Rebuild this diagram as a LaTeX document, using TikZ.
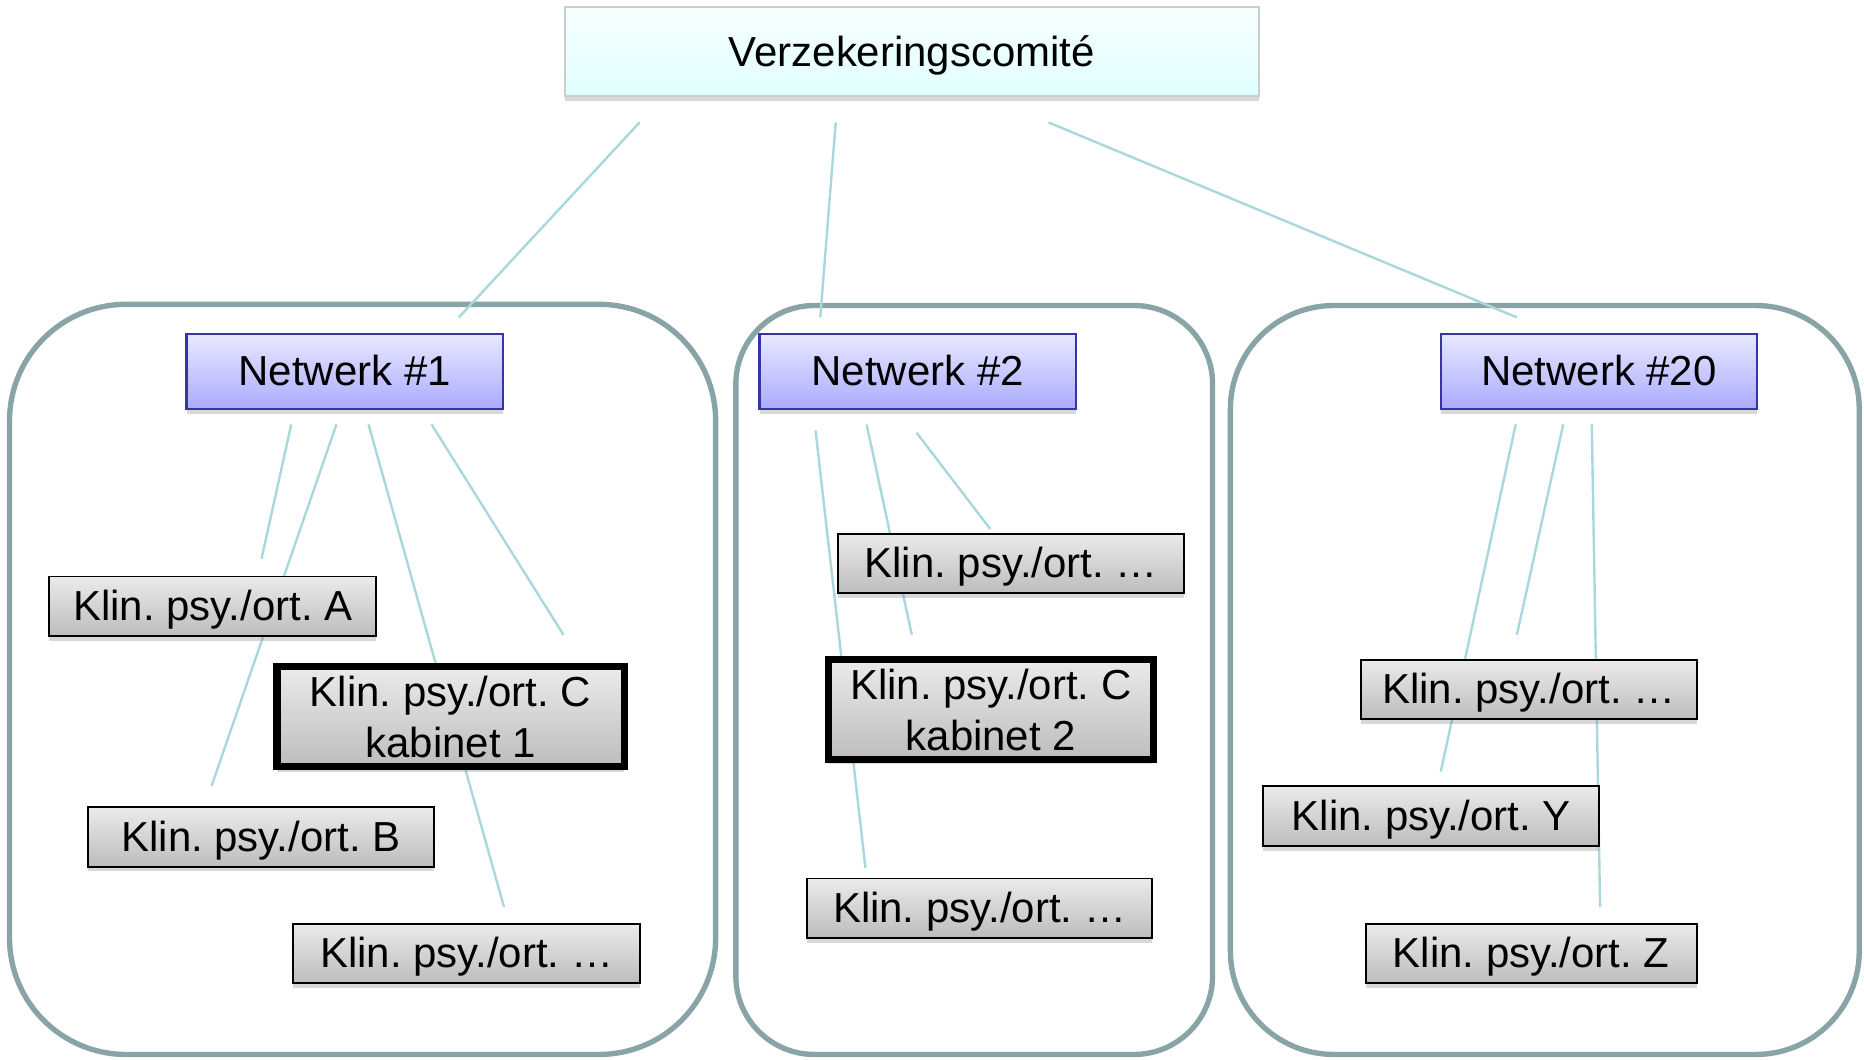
\documentclass[tikz,border=0pt]{standalone}
\usepackage{fontspec}
\setmainfont{Liberation Sans}
\usetikzlibrary{shadows}
\frenchspacing

\definecolor{linkc}{HTML}{A8D8DC}
\definecolor{groupc}{HTML}{88A4A6}
\definecolor{netc}{HTML}{3535A5}

\begin{document}
\begin{tikzpicture}[x=1pt,y=-1pt,
    every node/.style={font=\fontsize{35.3}{43}\selectfont, inner sep=0pt},
    oneline/.style={text height=31.7pt, text depth=7.4pt},
    shad/.style={drop shadow={shadow xshift=0pt, shadow yshift=-4pt, opacity=0.3}},
    group/.style={draw=groupc, line width=4.5pt},
    link/.style={draw=linkc, line width=2pt},
    comite/.style={oneline, shad, draw=black!20, line width=1.5pt, top color=cyan!3, bottom color=cyan!12,
      minimum width=584pt, minimum height=75pt},
    net/.style={oneline, shad, draw=netc, line width=2pt, top color=blue!9, bottom color=blue!33,
      minimum width=266pt, minimum height=63pt},
    klin/.style={oneline, shad, draw=black, line width=1.5pt, top color=black!8, bottom color=black!26,
      minimum width=#1, minimum height=50pt},
    kab/.style={shad, draw=black, line width=6pt, top color=black!8, bottom color=black!26,
      minimum width=#1, minimum height=84pt, align=center}]
  \fill[white] (0,0) rectangle (1568,891);
  \useasboundingbox (0,0) rectangle (1568,891);

  % netwerken
  \draw[group, rounded corners=98pt] (8,256) rectangle (602,887);
  \draw[group, rounded corners=66pt] (619,257) rectangle (1020,887);
  \draw[group, rounded corners=87pt] (1035,257) rectangle (1564,887);

  \foreach \n/\xa/\ya/\xb/\yb in {
      t1/538/103/386/267, t2/703/103/690/267, t3/882/103/1276/267,
      a1/245/357/220/470, a2/283/357/178/661, a3/310/357/424/763, a4/363/357/474/534,
      b1/686/362/728/730, b2/729/357/767/534, b3/771/364/833/445,
      c1/1275/357/1212/649, c2/1315/357/1276/534, c3/1339/357/1346/763}{
    \coordinate (\n s) at (\xa,\ya);
    \coordinate (\n e) at (\xb,\yb);
    \draw[link] (\n s) -- (\n e);
  }

  \node[comite] (vz) at (767,43.5) {Verzekeringscomité};
  \node[net] (n1) at (290,312.5) {Netwerk \#1};
  \node[net] (n2) at (772,312.5) {Netwerk \#2};
  \node[net] (n20) at (1345,312.5) {Netwerk \#20};

  \node[klin=275pt] (k1a) at (179,510) {Klin. psy./ort. A};
  \node[kab=292pt] (k1c) at (379,603) {Klin. psy./ort. C\\kabinet 1};
  \node[klin=291.5pt] (k1b) at (219.5,704) {Klin. psy./ort. B};
  \node[klin=291.5pt] (k1d) at (392.5,802) {Klin. psy./ort. …};

  \node[klin=291.5pt] (k2a) at (850.5,474) {Klin. psy./ort. …};
  \node[kab=273pt] (k2c) at (833.5,597) {Klin. psy./ort. C\\kabinet 2};
  \node[klin=290.5pt] (k2b) at (824,764) {Klin. psy./ort. …};

  \node[klin=282.5pt] (k3a) at (1286,580) {Klin. psy./ort. …};
  \node[klin=282.5pt] (k3y) at (1204,686.5) {Klin. psy./ort. Y};
  \node[klin=278.5pt] (k3z) at (1288,802) {Klin. psy./ort. Z};
\end{tikzpicture}
\end{document}
